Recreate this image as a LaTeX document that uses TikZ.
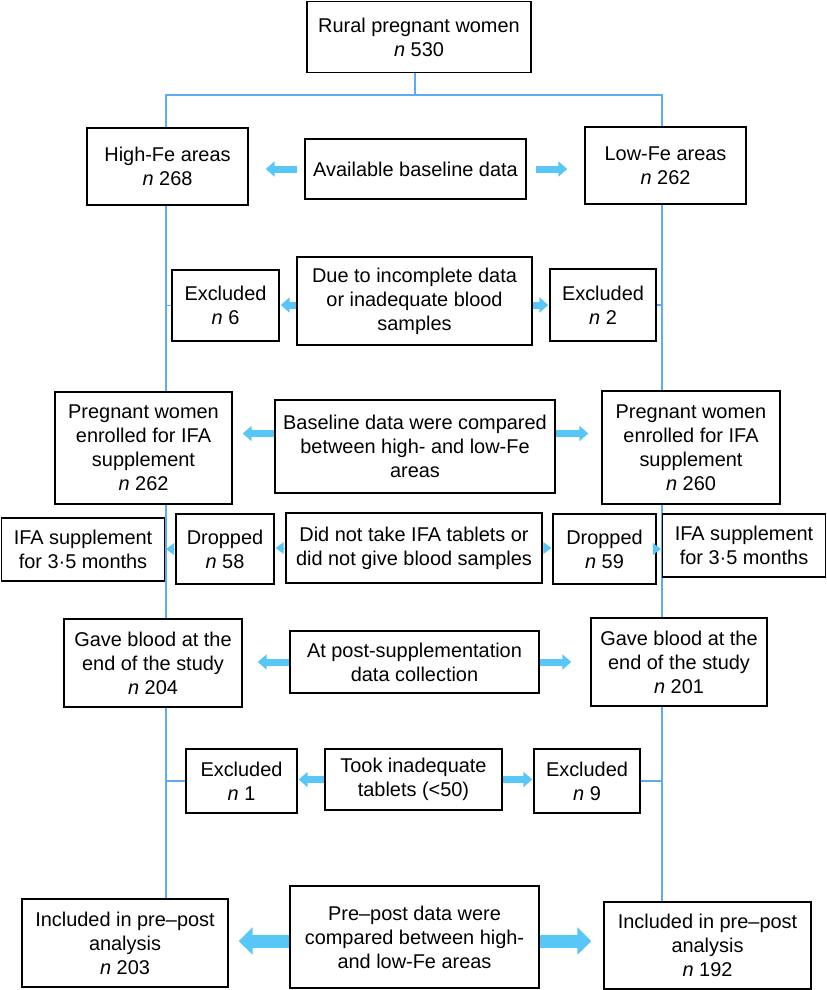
\documentclass[tikz,border=0pt]{standalone}
\usepackage{fontspec}
\setmainfont{Liberation Sans}
\usepackage{tikz}
\usepackage{xcolor}
\usetikzlibrary{arrows.meta, backgrounds}

\definecolor{trunkblue}{RGB}{95,170,240}
\definecolor{arrowblue}{RGB}{88,198,246}

\begin{document}
\begin{tikzpicture}[x=1bp, y=-1bp,
    box/.style={draw, line width=1.4bp, fill=white, align=center, inner sep=2bp,
        font=\fontsize{20}{24}\selectfont},
    trunk/.style={trunkblue, line width=1.5bp},
    fatarrow/.style={arrowblue, line width=7bp, -{Triangle[width=15bp, length=9bp]}},
    bigarrow/.style={arrowblue, line width=13bp, -{Triangle[width=27bp, length=14bp]}},
    tiparrow/.style={arrowblue, line width=1bp, -{Triangle[width=12bp, length=8bp]}}]
    \useasboundingbox (0,0) rectangle (827,990);

    % Study population
    \node[box, minimum width=224bp, minimum height=71bp] (rural) at (419,37) {Rural pregnant women\\\textit{n} 530};

    % Baseline
    \node[box, minimum width=161bp, minimum height=77bp] (high) at (167.5,166.5) {High-Fe areas\\\textit{n} 268};
    \node[box, minimum width=221bp, minimum height=60bp] (avail) at (415.5,169) {Available baseline data};
    \node[box, minimum width=161bp, minimum height=77bp] (low) at (665.5,165.5) {Low-Fe areas\\\textit{n} 262};

    % First exclusion
    \node[box, minimum width=107bp, minimum height=71bp] (exclA) at (225.5,305.5) {Excluded\\\textit{n} 6};
    \node[box, minimum width=235bp, minimum height=88bp] (due) at (414.5,301) {Due to incomplete data\\or inadequate blood\\samples};
    \node[box, minimum width=106bp, minimum height=72bp] (exclB) at (603,305) {Excluded\\\textit{n} 2};

    % Enrolment
    \node[box, minimum width=177bp, minimum height=112bp] (enrA) at (143.5,448) {Pregnant women\\enrolled for IFA\\supplement\\\textit{n} 262};
    \node[box, minimum width=280bp, minimum height=93bp] (base) at (415,446.5) {Baseline data were compared\\between high- and low-Fe\\areas};
    \node[box, minimum width=178bp, minimum height=113bp] (enrB) at (691,447.5) {Pregnant women\\enrolled for IFA\\supplement\\\textit{n} 260};

    % Supplementation and drop-outs
    \node[box, minimum width=163bp, minimum height=63bp] (ifaA) at (83,549.5) {IFA supplement\\for 3·5 months};
    \node[box, minimum width=98bp, minimum height=70bp] (dropA) at (225,549) {Dropped\\\textit{n} 58};
    \node[box, minimum width=256bp, minimum height=70bp] (didnot) at (414,548) {Did not take IFA tablets or\\did not give blood samples};
    \node[box, minimum width=103bp, minimum height=70bp] (dropB) at (604.5,549) {Dropped\\\textit{n} 59};
    \node[box, minimum width=163bp, minimum height=63bp] (ifaB) at (744,545.5) {IFA supplement\\for 3·5 months};

    % End of study
    \node[box, minimum width=178bp, minimum height=88bp] (gaveA) at (153,663) {Gave blood at the\\end of the study\\\textit{n} 204};
    \node[box, minimum width=249bp, minimum height=62bp] (post) at (414.5,662) {At post-supplementation\\data collection};
    \node[box, minimum width=176bp, minimum height=88bp] (gaveB) at (679,662) {Gave blood at the\\end of the study\\\textit{n} 201};

    % Second exclusion
    \node[box, minimum width=111bp, minimum height=64bp] (exclC) at (241.5,781) {Excluded\\\textit{n} 1};
    \node[box, minimum width=177bp, minimum height=61bp] (took) at (413.5,779.5) {Took inadequate\\tablets (<50)};
    \node[box, minimum width=106bp, minimum height=64bp] (exclD) at (587,781) {Excluded\\\textit{n} 9};

    % Analysis
    \node[box, minimum width=206bp, minimum height=88bp] (inclA) at (125,943) {Included in pre\textendash post\\analysis\\\textit{n} 203};
    \node[box, minimum width=249bp, minimum height=102bp] (prepost) at (414.5,937) {Pre\textendash post data were\\compared between high-\\and low-Fe areas};
    \node[box, minimum width=207bp, minimum height=87bp] (inclB) at (707.5,945.5) {Included in pre\textendash post\\analysis\\\textit{n} 192};

    % Trunk lines
    \begin{scope}[on background layer]
        \coordinate (split) at (415,95);
        \coordinate (tl) at (166,95);
        \coordinate (tr) at (662,95);
        \draw[trunk] (split) -- (split |- rural.south);
        \draw[trunk] (tl |- inclA.north) -- (tl) -- (tr) -- (tr |- inclB.north);
        \draw[trunk] (tl |- exclA.west) -- (exclA.west);
        \draw[trunk] (exclB.east) -- (tr |- exclB.east);
        \draw[trunk] (tl |- exclC.west) -- (exclC.west);
        \draw[trunk] (exclD.east) -- (tr |- exclD.east);
    \end{scope}

    % Side arrows
    \draw[fatarrow, shorten <=7bp, shorten >=17bp] (avail.west) -- (avail.west -| high.east);
    \draw[fatarrow, shorten <=9bp, shorten >=17bp] (avail.east) -- (avail.east -| low.west);
    \draw[fatarrow, shorten >=1bp] ([yshift=-4bp]due.west) -- ([yshift=-4bp]due.west -| exclA.east);
    \draw[fatarrow, shorten >=1bp] ([yshift=-4bp]due.east) -- ([yshift=-4bp]due.east -| exclB.west);
    \draw[fatarrow, shorten >=10bp] ([yshift=13bp]base.west) -- ([yshift=13bp]base.west -| enrA.east);
    \draw[fatarrow, shorten >=13bp] ([yshift=13bp]base.east) -- ([yshift=13bp]base.east -| enrB.west);
    \draw[tiparrow, shorten >=1bp] (didnot.west) -- (didnot.west -| dropA.east);
    \draw[tiparrow, shorten >=1bp] (dropA.west) -- (dropA.west -| ifaA.east);
    \draw[tiparrow, shorten >=1bp] (didnot.east) -- (didnot.east -| dropB.west);
    \draw[tiparrow, shorten >=1bp] (dropB.east) -- (dropB.east -| ifaB.west);
    \draw[fatarrow, shorten >=15bp] (post.west) -- (post.west -| gaveA.east);
    \draw[fatarrow, shorten >=19bp] (post.east) -- (post.east -| gaveB.west);
    \draw[fatarrow, shorten >=1bp] (took.west) -- (took.west -| exclC.east);
    \draw[fatarrow, shorten >=1bp] (took.east) -- (took.east -| exclD.west);
    \draw[bigarrow, shorten >=10bp] ([yshift=-4bp]prepost.west) -- ([yshift=-4bp]prepost.west -| inclA.east);
    \draw[bigarrow, shorten >=12bp] ([yshift=-4bp]prepost.east) -- ([yshift=-4bp]prepost.east -| inclB.west);
\end{tikzpicture}
\end{document}
